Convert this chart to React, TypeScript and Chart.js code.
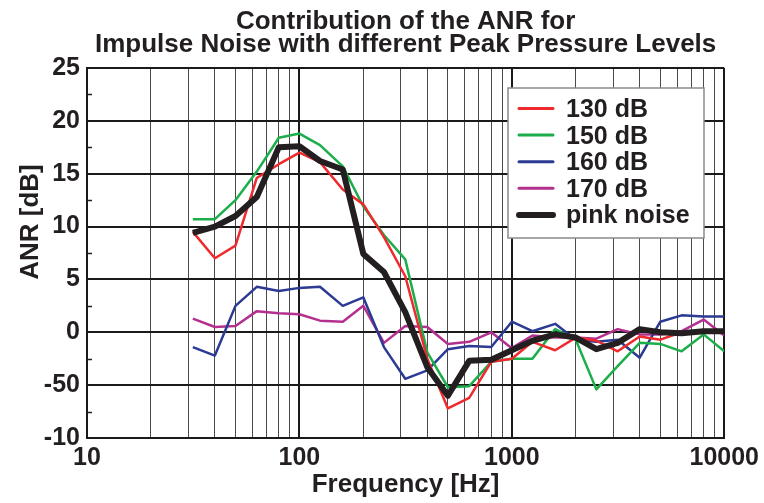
import React, { useEffect, useRef } from 'react';
import { Chart, registerables } from 'chart.js';

Chart.register(...registerables);

// ---------- data ----------
const frequencies = [31.5, 40, 50, 63, 80, 100, 125, 160, 200, 250, 315, 400, 500, 630, 800, 1000, 1250, 1600, 2000, 2500, 3150, 4000, 5000, 6300, 8000, 10000];
const anr130 = [9.5, 7.0, 8.2, 14.6, 15.9, 17.0, 16.1, 13.5, 12.1, 9.0, 5.3, -2.5, -7.2, -6.2, -2.8, -2.5, -0.9, -1.7, -0.5, -0.8, -1.8, -0.4, -0.7, 0.0, 0.0, 0.1];
const anr150 = [10.7, 10.7, 12.5, 15.2, 18.4, 18.8, 17.7, 15.7, 11.9, 9.2, 6.9, -1.9, -5.2, -5.1, -2.8, -2.5, -2.5, 0.3, -0.7, -5.4, -3.2, -1.0, -1.1, -1.8, -0.2, -1.8];
const anr160 = [-1.4, -2.2, 2.5, 4.3, 3.9, 4.2, 4.3, 2.5, 3.3, -1.4, -4.4, -3.6, -1.6, -1.3, -1.4, 1.0, 0.1, 0.8, -0.7, -0.9, -0.7, -2.4, 1.0, 1.6, 1.5, 1.5];
const anr170 = [1.3, 0.5, 0.6, 2.0, 1.8, 1.7, 1.1, 1.0, 2.5, -1.0, 0.6, 0.5, -1.1, -0.9, 0.0, -1.5, -0.3, -0.5, -0.5, -0.6, 0.3, -0.2, -0.2, 0.1, 1.2, -0.3];
const anrPink = [9.4, 10.0, 11.0, 12.8, 17.5, 17.6, 16.2, 15.4, 7.4, 5.7, 1.9, -3.3, -6.0, -2.7, -2.6, -1.7, -0.8, -0.2, -0.5, -1.6, -1.0, 0.3, 0.0, -0.1, 0.1, 0.1];

const seriesLabels = ['130 dB', '150 dB', '160 dB', '170 dB', 'pink noise'];
const seriesColors = ['#ee2a2e', '#1cae4a', '#2b3a92', '#b4308f', '#231f20'];
const seriesWidths = [2.5, 2.5, 2.5, 2.5, 6];

const titleLines = ['Contribution of the ANR for', 'Impulse Noise with different Peak Pressure Levels'];
const xTitle = 'Frequency [Hz]';
const yTitle = 'ANR [dB]';

const xDecades = [10, 100, 1000, 10000];
const yTickValues = [-10, -5, 0, 5, 10, 15, 20, 25];
const yTickLabels = ['-10', '-50', '0', '5', '10', '15', '20', '25'];
const yMinorTicks = [-7.5, -2.5, 2.5, 7.5, 12.5, 17.5, 22.5];

const xGridValues: number[] = [];
for (let d = 0; d < xDecades.length - 1; d++) {
  for (let m = 1; m <= 9; m++) xGridValues.push(m * xDecades[d]);
}
xGridValues.push(xDecades[xDecades.length - 1]);

const FONT = '"Liberation Sans", Arial, Helvetica, sans-serif';
const TEXT = '#231f20';

const decorPlugin = {
  id: 'decor',
  afterDraw(chart: any) {
    const { ctx, chartArea } = chart;
    const yScale = chart.scales.y;
    ctx.save();
    // minor y ticks (inside, left)
    ctx.strokeStyle = '#231f20';
    ctx.lineWidth = 1.5;
    yMinorTicks.forEach((v) => {
      const py = Math.round(yScale.getPixelForValue(v)) + 0.5;
      ctx.beginPath();
      ctx.moveTo(chartArea.left, py);
      ctx.lineTo(chartArea.left + 5, py);
      ctx.stroke();
    });

    // title
    ctx.fillStyle = TEXT;
    ctx.font = `bold 26px ${FONT}`;
    ctx.textAlign = 'center';
    ctx.textBaseline = 'alphabetic';
    const cx = (chartArea.left + chartArea.right) / 2;
    ctx.fillText(titleLines[0], cx, 28.5);
    ctx.fillText(titleLines[1], cx, 52);

    // y title
    ctx.save();
    ctx.translate(31, chartArea.top + 154);
    ctx.rotate(-Math.PI / 2);
    ctx.font = `bold 26px ${FONT}`;
    ctx.textAlign = 'center';
    ctx.textBaseline = 'middle';
    ctx.fillText(yTitle, 0, 0);
    ctx.restore();

    // legend
    const lx = chartArea.left + 421;
    const ly = chartArea.top + 20;
    const lw = 196;
    const lh = 150;
    ctx.fillStyle = '#ffffff';
    ctx.fillRect(lx, ly, lw, lh);
    ctx.strokeStyle = '#8a8a8a';
    ctx.lineWidth = 1.5;
    ctx.strokeRect(lx, ly, lw, lh);
    ctx.font = `bold 25px ${FONT}`;
    ctx.textAlign = 'left';
    ctx.textBaseline = 'alphabetic';
    seriesLabels.forEach((label, i) => {
      const rowY = ly + 20.5 + i * 26.6;
      ctx.strokeStyle = seriesColors[i];
      ctx.lineWidth = i === 4 ? 6 : 3;
      ctx.lineCap = 'round';
      ctx.beginPath();
      ctx.moveTo(lx + 11, rowY);
      ctx.lineTo(lx + 45, rowY);
      ctx.stroke();
      ctx.fillStyle = TEXT;
      ctx.fillText(label, lx + 58, rowY + 8.5);
    });
    ctx.restore();
  },
};

export default function App() {
  const canvasRef = useRef<HTMLCanvasElement | null>(null);

  useEffect(() => {
    if (!canvasRef.current) return;
    const seriesValues = [anr130, anr150, anr160, anr170, anrPink];
    const datasets = seriesValues.map((vals, i) => ({
      label: seriesLabels[i],
      data: frequencies.map((f, j) => ({ x: f, y: vals[j] })),
      borderColor: seriesColors[i],
      backgroundColor: seriesColors[i],
      borderWidth: seriesWidths[i],
      pointRadius: 0,
      tension: 0,
      fill: false,
      borderJoinStyle: 'round' as const,
      order: i === 4 ? 0 : i + 1,
    }));

    const isDecade = (v: number) => xDecades.includes(v);

    const chart = new Chart(canvasRef.current, {
      type: 'line',
      data: { datasets },
      plugins: [decorPlugin],
      options: {
        responsive: false,
        animation: false,
        devicePixelRatio: 1,
        layout: { padding: { top: 68, right: 38, bottom: 0, left: 0 } },
        plugins: {
          legend: { display: false },
          title: { display: false },
          tooltip: { enabled: false },
        },
        scales: {
          x: {
            type: 'logarithmic',
            position: 'bottom',
            min: 10,
            max: 10000,
            afterBuildTicks: (s: any) => {
              s.ticks = xGridValues.map((v) => ({ value: v }));
            },
            afterFit: (s: any) => {
              s.height = 65;
            },
            ticks: {
              autoSkip: false,
              maxRotation: 0,
              minRotation: 0,
              padding: 5,
              color: TEXT,
              font: { family: FONT, size: 25, weight: 'bold' },
              callback: (v: any) => (isDecade(Number(v)) ? String(v) : ''),
            },
            grid: {
              drawTicks: false,
              color: (c: any) => (c.tick && isDecade(c.tick.value) ? '#1a1a1a' : '#4a4a4a'),
              lineWidth: (c: any) => (c.tick && isDecade(c.tick.value) ? 2 : 1),
            },
            border: { display: true, color: '#1a1a1a', width: 2 },
            title: {
              display: true,
              text: xTitle,
              color: TEXT,
              font: { family: FONT, size: 26, weight: 'bold' },
              padding: { top: 0, bottom: 3 },
            },
          },
          y: {
            type: 'linear',
            min: -10,
            max: 25,
            afterBuildTicks: (s: any) => {
              s.ticks = yTickValues.map((v) => ({ value: v }));
            },
            afterFit: (s: any) => {
              s.width = 87;
            },
            ticks: {
              padding: 7,
              color: TEXT,
              font: { family: FONT, size: 25, weight: 'bold' },
              callback: (v: any) => {
                const idx = yTickValues.indexOf(Number(v));
                return idx >= 0 ? yTickLabels[idx] : '';
              },
            },
            grid: {
              drawTicks: false,
              color: '#1a1a1a',
              lineWidth: 2,
            },
            border: { display: true, color: '#1a1a1a', width: 2 },
          },
        },
      },
    });
    return () => chart.destroy();
  }, []);

  return (
    <div style={{ position: 'absolute', left: 0, top: 0, width: 764, height: 503, background: '#ffffff' }}>
      <canvas ref={canvasRef} width={764} height={503} style={{ display: 'block', width: 764, height: 503 }} />
    </div>
  );
}
